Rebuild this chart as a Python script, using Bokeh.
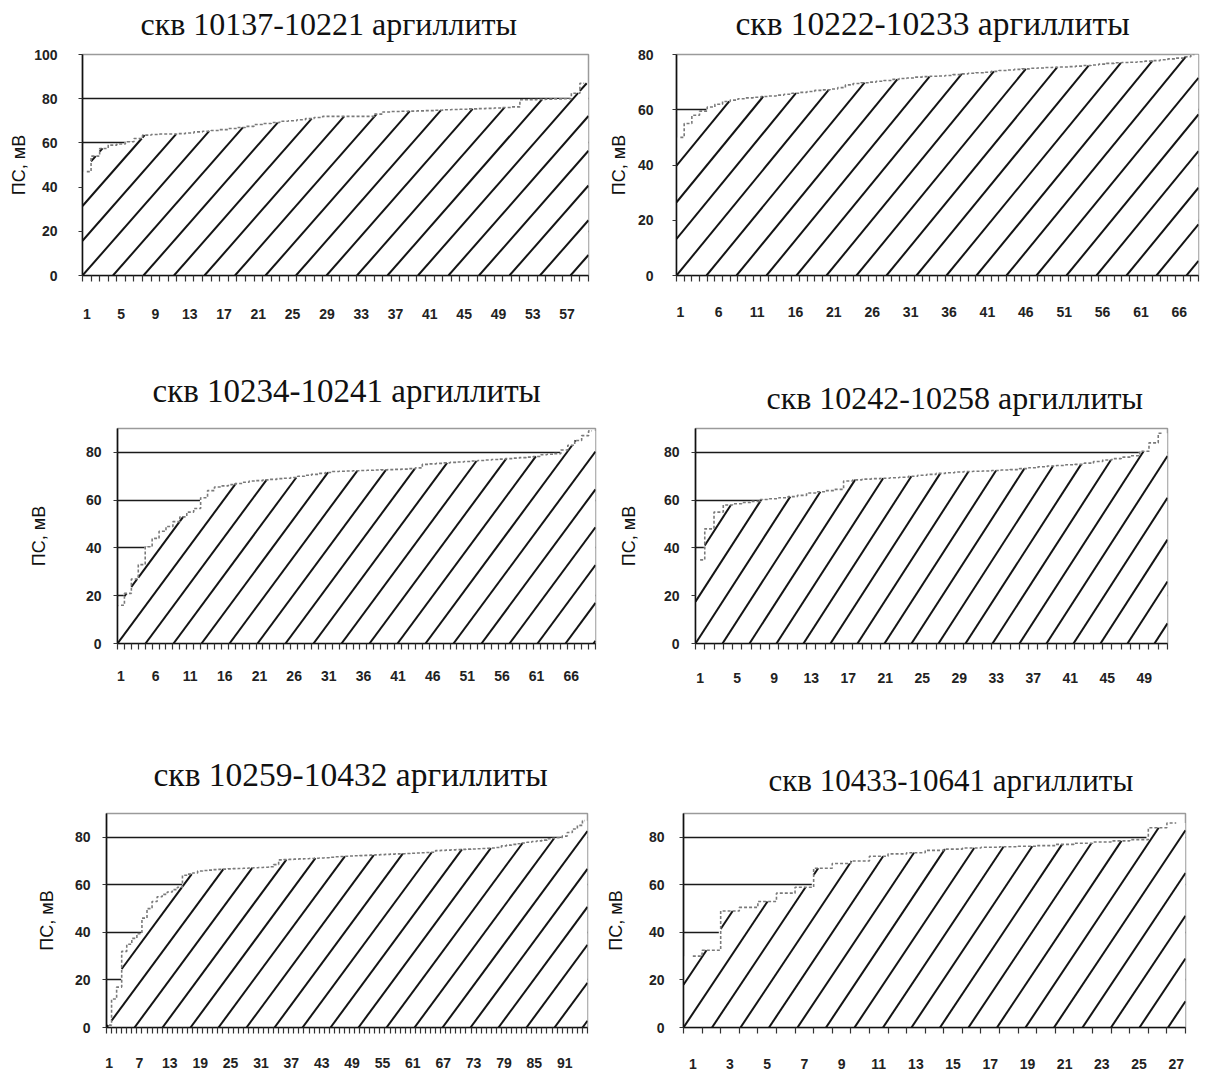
import math
from bokeh.plotting import figure
from bokeh.layouts import column, row
from bokeh.models import FixedTicker, Range1d, ColumnDataSource
from bokeh.embed import file_html
from bokeh.resources import INLINE

# ---------------- data ----------------
titles = [
    "скв 10137-10221 аргиллиты",
    "скв 10222-10233 аргиллиты",
    "скв 10234-10241 аргиллиты",
    "скв 10242-10258 аргиллиты",
    "скв 10259-10432 аргиллиты",
    "скв 10433-10641 аргиллиты",
]
y_label = "ПС, мВ"

ps_10137_10221 = [47, 54, 57.5, 59, 59.5, 60.5, 62, 63.5, 63.8, 64, 64, 64.2, 64.5, 65, 65.3, 65.6,
                  66, 66.5, 67, 67.5, 68.3, 68.8, 69.2, 69.8, 70, 70.5, 71, 71.5, 72, 72, 72, 72,
                  72, 72, 73, 74, 74.2, 74.3, 74.4, 74.5, 74.6, 74.8, 75, 75.1, 75.2, 75.4, 75.5,
                  75.6, 75.8, 76, 76.3, 79.5, 79.6, 79.7, 79.8, 79.9, 80, 82.5, 87]
ps_10222_10233 = [50, 55, 58, 59.5, 61, 62, 63, 63.5, 64, 64.3, 64.5, 64.8, 65, 65.3, 65.6, 66,
                  66.3, 66.6, 67, 67.2, 67.5, 68, 69, 69.5, 69.8, 70, 70.3, 70.6, 71, 71.3, 71.5,
                  71.8, 72, 72.1, 72.2, 72.4, 72.7, 73, 73.2, 73.4, 73.6, 73.9, 74.2, 74.4, 74.6,
                  74.8, 75, 75.1, 75.3, 75.4, 75.5, 75.6, 75.8, 76, 76.2, 76.5, 76.8, 77, 77.1,
                  77.2, 77.4, 77.6, 77.8, 78.1, 78.4, 78.7, 79.2, 80]
ps_10234_10241 = [16, 21, 27, 33, 40.5, 44, 47, 49, 51, 53, 55, 56.5, 61, 64, 65.5, 66, 66.5, 67,
                  67.5, 68, 68.2, 68.5, 68.7, 69, 69.2, 69.5, 70, 70.4, 70.8, 71.2, 71.6, 72, 72.1,
                  72.2, 72.3, 72.4, 72.5, 72.6, 72.7, 72.8, 72.9, 73, 73.2, 73.5, 75, 75.2, 75.4,
                  75.6, 75.8, 76, 76.2, 76.4, 76.6, 76.8, 77, 77.2, 77.4, 77.6, 77.8, 78, 78.3, 79,
                  79.2, 79.5, 81, 83, 85, 87, 89]
ps_10242_10258 = [35, 48, 55, 58, 58.5, 59, 59.5, 60.3, 60.6, 61, 61.5, 62, 63, 63.5, 64, 64.5,
                  68, 68.5, 68.8, 69, 69.2, 69.4, 69.6, 70, 70.4, 70.8, 71.2, 71.5, 71.8, 72, 72.1,
                  72.2, 72.4, 72.6, 72.8, 73.2, 73.6, 74, 74.3, 74.5, 74.8, 75, 75.5, 76.2, 76.8,
                  77.4, 78, 78.6, 80.5, 84, 88]
ps_10259_10432 = [1, 12, 17, 32, 35, 37.5, 39.5, 46, 50, 53, 55, 56, 57, 58, 59, 64, 64.5, 65,
                  65.8, 66, 66.2, 66.4, 66.5, 66.6, 66.7, 66.8, 66.9, 67, 67.1, 67.2, 67.3, 67.4,
                  67.6, 68.5, 70.5, 70.6, 70.7, 70.8, 70.9, 71, 71.1, 71.2, 71.3, 71.4, 71.6, 71.8,
                  71.9, 72, 72.1, 72.2, 72.3, 72.4, 72.5, 72.6, 72.7, 72.8, 72.9, 73, 73.1, 73.2,
                  73.3, 73.4, 73.5, 73.6, 73.7, 74.4, 74.5, 74.6, 74.7, 74.8, 74.9, 75, 75.1, 75.2,
                  75.3, 75.4, 75.5, 75.7, 76.4, 76.7, 77, 77.3, 77.6, 77.9, 78.2, 78.5, 78.8, 79.4,
                  79.6, 79.8, 80.5, 82, 83.5, 85, 87]
ps_10433_10641 = [30, 32.5, 49, 50.5, 53, 56.5, 59, 67, 69, 70, 72, 73, 73.5, 74.5, 75, 75.5,
                  75.8, 76, 76.2, 76.5, 77, 77.5, 78, 78.5, 79, 84, 86]

series = [ps_10137_10221, ps_10222_10233, ps_10234_10241,
          ps_10242_10258, ps_10259_10432, ps_10433_10641]
y_max = [100, 80, 90, 90, 90, 90]
y_tick_step = 20
x_label_step = [4, 5, 5, 4, 6, 2]

# ---------------- layout / style (per panel) ----------------
# toff: title left offset from frame left (px); tst: title standoff; tfs: title font size
# mt: top margin of the figure (negative pulls it up); hatch = (h. spacing px, slope px/px)
cfg = [
    dict(w=600, h=350, mt=-8, bl=82, br=12, bt=62, bb=65, xs=27, yso=21, als=2, toff=58, tst=22, tfs=32, hatch=(30.5, 1.15)),
    dict(w=607, h=350, mt=-8, bl=76, br=9, bt=62, bb=67, xs=25, yso=19, als=6, toff=59, tst=21, tfs=33.5, hatch=(30.0, 1.22)),
    dict(w=600, h=374, mt=0, bl=117, br=5, bt=78, bb=67, xs=21, yso=12, als=34, toff=35, tst=36, tfs=33, hatch=(28.0, 1.44)),
    dict(w=607, h=374, mt=0, bl=95, br=40, bt=86, bb=73, xs=23, yso=12, als=22, toff=71, tst=22, tfs=32, hatch=(27.0, 1.55)),
    dict(w=600, h=359, mt=0, bl=106, br=13, bt=87, bb=43, xs=24, yso=12, als=15, toff=47, tst=37, tfs=33.5, hatch=(28.0, 1.45)),
    dict(w=607, h=359, mt=0, bl=83, br=22, bt=97, bb=48, xs=25, yso=15, als=20, toff=85, tst=27, tfs=31, hatch=(28.5, 1.5)),
]

TICK_FONT = "Liberation Sans"


def hatch_segments(vals, ymax, fw, fh, dx_px, slope_px):
    """Diagonal hatch lines clipped to the area under the step curve (data units)."""
    n = len(vals)
    ux = fw / n
    uy = fh / ymax
    ms = slope_px * ux / uy
    span = max(vals) / ms
    kmin = -int(math.ceil(span * ux / dx_px)) - 1
    kmax = int(math.ceil(fw / dx_px)) + 1
    X0, Y0, X1, Y1 = [], [], [], []

    def emit(seg, x0):
        a, b = seg
        X0.append(a); Y0.append(ms * (a - x0))
        X1.append(b); Y1.append(ms * (b - x0))

    for k in range(kmin, kmax + 1):
        x0 = 0.5 + k * dx_px / ux
        cur = None
        for i, v in enumerate(vals):
            xl, xr = i + 0.5, i + 1.5
            a = max(xl, x0)
            b = min(xr, x0 + v / ms)
            if b > a + 1e-9:
                if cur is not None and abs(cur[1] - a) < 1e-9:
                    cur[1] = b
                else:
                    if cur is not None:
                        emit(cur, x0)
                    cur = [a, b]
            else:
                if cur is not None:
                    emit(cur, x0)
                    cur = None
        if cur is not None:
            emit(cur, x0)
    return dict(x0=X0, y0=Y0, x1=X1, y1=Y1)


def make_panel(title, vals, ymax, step, c):
    n = len(vals)
    xs = list(range(1, n + 1))
    src = ColumnDataSource(dict(x=xs, v=vals))
    fw = c["w"] - c["bl"] - c["br"]
    fh = c["h"] - c["bt"] - c["bb"]
    p = figure(width=c["w"], height=c["h"], output_backend="svg", toolbar_location=None,
               x_range=Range1d(0.5, n + 0.5), y_range=Range1d(0, ymax),
               min_border_left=c["bl"], min_border_right=c["br"],
               min_border_top=c["bt"], min_border_bottom=c["bb"],
               margin=(c["mt"], 0, 0, 0),
               title=title)
    p.background_fill_color = "white"
    p.border_fill_color = "white"
    p.outline_line_color = "#9a9a9a"
    p.outline_line_width = 1.5

    # title
    p.title.align = "left"
    p.title.vertical_align = "top"
    p.title.text_font = "Liberation Serif"
    p.title.text_font_size = "%spx" % c["tfs"]
    p.title.text_font_style = "normal"
    p.title.text_color = "#111111"
    p.title.offset = c["toff"]
    p.title.standoff = c["tst"]

    # grid
    yt = FixedTicker(ticks=list(range(0, ymax + 1, y_tick_step)), minor_ticks=[])
    p.xgrid.visible = False
    p.ygrid.ticker = yt
    p.ygrid.grid_line_color = "#1a1a1a"
    p.ygrid.grid_line_width = 1.5

    # white area under the sorted curve (hides the grid lines)
    p.vbar(x="x", top="v", width=1.2, source=src, fill_color="white", line_color=None)

    # diagonal hatch clipped to the area
    h_src = ColumnDataSource(hatch_segments(vals, ymax, fw, fh, *c["hatch"]))
    p.segment(x0="x0", y0="y0", x1="x1", y1="y1", source=h_src,
              line_color="#141414", line_width=2.0)

    # the curve itself
    p.step(x="x", y="v", source=src, mode="center", line_color="#7a7a7a",
           line_width=1.6, line_dash="3 2")

    # y axis
    p.yaxis.ticker = yt
    p.yaxis.axis_label = y_label
    p.yaxis.axis_label_text_font = TICK_FONT
    p.yaxis.axis_label_text_font_size = "18px"
    p.yaxis.axis_label_text_font_style = "normal"
    p.yaxis.axis_label_text_color = "#111111"
    p.yaxis.axis_label_standoff = c["als"]
    p.yaxis.major_label_text_font = TICK_FONT
    p.yaxis.major_label_text_font_size = "14px"
    p.yaxis.major_label_text_font_style = "bold"
    p.yaxis.major_label_text_color = "#222222"
    p.yaxis.major_label_standoff = c["yso"]
    p.yaxis.major_tick_out = 4
    p.yaxis.major_tick_in = 0
    p.yaxis.major_tick_line_color = "#333333"
    p.yaxis.axis_line_color = "#111111"
    p.yaxis.axis_line_width = 1.6

    # x axis
    xt = FixedTicker(ticks=list(range(1, n + 1, step)),
                     minor_ticks=[k + 0.5 for k in range(0, n + 1)])
    p.xaxis.ticker = xt
    p.xaxis.major_label_text_font = TICK_FONT
    p.xaxis.major_label_text_font_size = "14px"
    p.xaxis.major_label_text_font_style = "bold"
    p.xaxis.major_label_text_color = "#222222"
    p.xaxis.major_label_standoff = c["xs"]
    p.xaxis.major_tick_out = 0
    p.xaxis.major_tick_in = 0
    p.xaxis.minor_tick_out = 6
    p.xaxis.minor_tick_in = 0
    p.xaxis.minor_tick_line_color = "#333333"
    p.xaxis.minor_tick_line_width = 1.2
    p.xaxis.axis_line_color = "#111111"
    p.xaxis.axis_line_width = 1.6
    return p


panels = [make_panel(t, v, ym, st, c)
          for t, v, ym, st, c in zip(titles, series, y_max, x_label_step, cfg)]

layout = column(row(panels[0], panels[1]),
                row(panels[2], panels[3]),
                row(panels[4], panels[5]))

open("out.html", "w").write(file_html(layout, INLINE))
